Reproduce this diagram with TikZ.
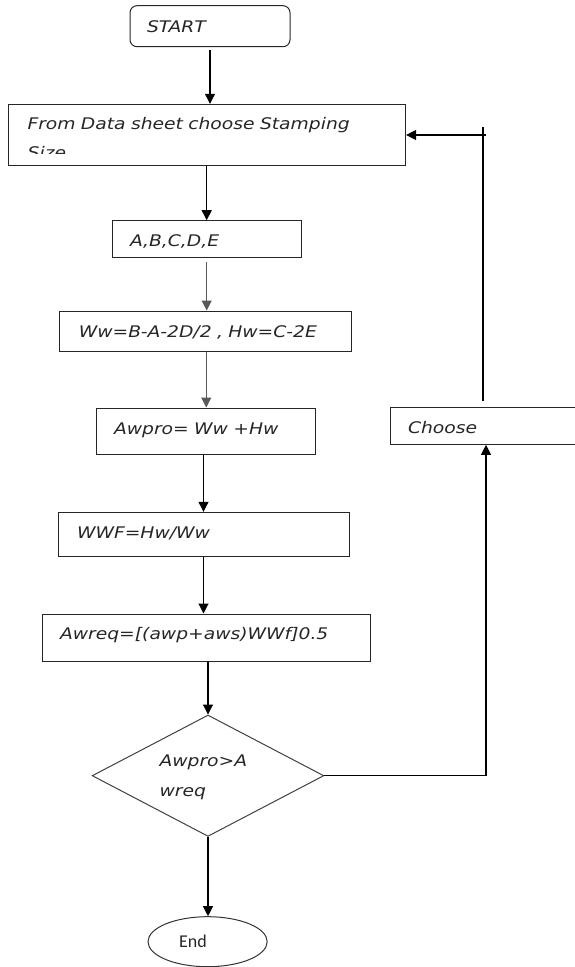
\documentclass[tikz,border=0pt]{standalone}
\usepackage{fontspec}
\usetikzlibrary{shapes.geometric,arrows.meta}
\newfontfamily\dvfont[FakeStretch=1.17]{DejaVu Sans}
\newfontfamily\carlfont{Carlito}
\begin{document}
\begin{tikzpicture}[x=1pt,y=-1pt,
  txtfont/.style={font=\dvfont\itshape\fontsize{16}{30}\selectfont, text=black!85},
  box/.style={draw=black!85, line width=1pt, rectangle, inner ysep=0pt, align=left, txtfont},
  arr/.style={-{Triangle[length=10pt,width=10pt]}, line width=1.1pt, draw=black},
  grayarr/.style={arr, draw=black!65},
  ln/.style={line width=1.1pt, draw=black}]
\useasboundingbox (0,0) rectangle (575,967);

% boxes
\node[box, rounded corners=7pt, minimum width=160pt, minimum height=41pt, inner xsep=17pt, text width=126pt, text height=12.7pt, text depth=0pt] (start) at (210,26.2) {START};
\node[box, minimum width=397.6pt, minimum height=61.4pt, inner xsep=19.5pt, text width=358.6pt, text height=11.7pt, text depth=22.7pt] (box2) at (206.8,135) {From Data sheet choose Stamping};
\begin{scope}
  \clip (8,104.3) rectangle (405.6,153.3);
  \node[anchor=base west, inner sep=0pt, txtfont] (size) at (27.5,158.4) {Size};
\end{scope}
\node[box, minimum width=189.4pt, minimum height=37pt, inner xsep=18pt, text width=153.4pt, text height=14.7pt, text depth=0pt] (box3) at (206.7,239.2) {A,B,C,D,E};
\node[box, minimum width=291.2pt, minimum height=40pt, inner xsep=19pt, text width=253.2pt, text height=13.1pt, text depth=0pt] (box4) at (205.4,331) {Ww=B-A-2D/2 , Hw=C-2E};
\node[box, minimum width=218.9pt, minimum height=46pt, inner xsep=17.2pt, text width=184.5pt, text height=11.7pt, text depth=5.4pt] (box5) at (206.25,431) {Awpro= Ww +Hw};
\node[box, minimum width=291pt, minimum height=44pt, inner xsep=19pt, text width=253pt, text height=11.7pt, text depth=4pt] (box6) at (203.5,534.3) {WWF=Hw/Ww};
\node[box, minimum width=328pt, minimum height=47pt, inner xsep=18pt, text width=292pt, text height=11.7pt, text depth=7pt] (box7) at (206,637.5) {Awreq=[(awp+aws)WWf]0.5};
\begin{scope}
  \clip (0,0) rectangle (575,967);
  \node[box, minimum width=229.5pt, minimum height=36.6pt, inner xsep=17.5pt, text width=194.5pt, text height=15.7pt, text depth=0pt] (choose) at (505.25,426) {Choose};
\end{scope}
\node[diamond, draw=black!75, line width=1pt, minimum width=231.7pt, minimum height=121.4pt, inner sep=0pt, aspect=1.9, align=left, text width=97pt, text height=11.7pt, text depth=29.7pt, txtfont] (dia) at (208,775.7) {Awpro>A\\wreq};
\node[ellipse, draw=black!80, line width=1pt, minimum width=119.2pt, minimum height=50pt, inner sep=0pt, font=\carlfont\fontsize{18}{22}\selectfont, text=black!85, text height=11.6pt, text depth=0pt] (end) at (207.6,941.7) {\makebox[57pt][l]{End}};

% connectors
\draw[arr, shorten <=3pt] (start.south) -- (start.south |- box2.north);
\draw[arr] (box3.north |- box2.south) -- (box3.north);
\draw[grayarr, shorten <=4pt] (box3.south) -- (box3.south |- box4.north);
\draw[grayarr] (box5.north |- box4.south) -- (box5.north);
\draw[arr] (box6.north |- box5.south) -- (box6.north);
\draw[arr] (box6.south) -- (box6.south |- box7.north);
\draw[arr] (dia.north |- box7.south) -- (dia.north);
\draw[arr] (dia.south) -- (dia.south |- end.north);

\coordinate (r1) at (486,775.7);
\coordinate (r2) at (483,127.3);
\coordinate (r3) at (486,135);
\draw[arr] (dia.east) -- (r1) -- (r1 |- choose.south);
\draw[ln, shorten <=6pt] (choose.north -| r2) -- (r2);
\draw[arr] (r3) -- (box2.east);
\end{tikzpicture}
\end{document}
